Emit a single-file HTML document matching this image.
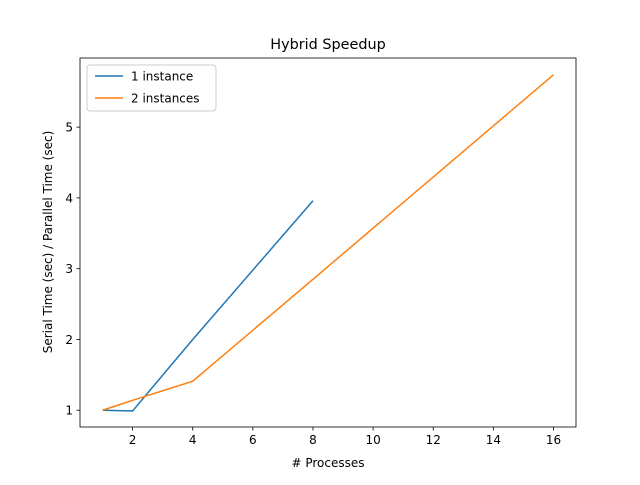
<!DOCTYPE html>
<html><head><meta charset="utf-8"><style>
body{margin:0;background:#fff}
svg{font-family:"DejaVu Sans","Liberation Sans",sans-serif}
</style></head><body>
<svg id="chart" width="640" height="480">
<rect x="0" y="0" width="640" height="480" fill="#fff"/>
<text x="328" y="49" font-size="14.4" text-anchor="middle">Hybrid Speedup</text>
<g id="xt"></g><g id="yt"></g><g id="lines"></g>
<rect x="80" y="58" width="496" height="369" fill="none" stroke="#000" stroke-width="0.8"/>
<text x="328" y="467" font-size="12" text-anchor="middle"># Processes</text>
<text transform="translate(52,242) rotate(-90)" font-size="12" text-anchor="middle">Serial Time (sec) / Parallel Time (sec)</text>
<g>
<rect x="87" y="65" width="129" height="46" rx="3" fill="#fff" stroke="#ccc" stroke-width="1"/>
<line x1="95" y1="76" x2="123" y2="76" stroke="#1f77b4" stroke-width="1.5"/>
<text x="131" y="80.5" font-size="12">1 instance</text>
<line x1="95" y1="98" x2="123" y2="98" stroke="#ff7f0e" stroke-width="1.5"/>
<text x="131" y="102.5" font-size="12">2 instances</text>
</g>
</svg>
<script>
const xTicks=[2,4,6,8,10,12,14,16];
const yTicks=[1,2,3,4,5];
const x1=[1,2,4,8];
const y1=[1,0.99,2.0,3.96];
const x2=[1,2,4,8,16];
const y2=[1,1.14,1.41,2.85,5.74];
const NS="http://www.w3.org/2000/svg";
const L=80,R=576,T=58,B=427;
const xmin=0.25,xmax=16.75,ymin=0.763,ymax=5.977;
const X=v=>L+(v-xmin)/(xmax-xmin)*(R-L);
const Y=v=>B-(v-ymin)/(ymax-ymin)*(B-T);
function mk(t,a,p){const e=document.createElementNS(NS,t);for(const k in a)e.setAttribute(k,a[k]);p.appendChild(e);return e;}
const xt=document.getElementById('xt'),yt=document.getElementById('yt'),lg=document.getElementById('lines');
xTicks.forEach(v=>{
 const l=mk('line',{x1:X(v),x2:X(v),y1:B,y2:B+3.5,stroke:'#000','stroke-width':0.8},xt);
 
 
 const t=mk('text',{x:X(v),y:B+17,'font-size':12,'text-anchor':'middle'},xt);t.textContent=v;
 
 
});
yTicks.forEach(v=>{
 const l=mk('line',{x1:L-3.5,x2:L,y1:Y(v),y2:Y(v),stroke:'#000','stroke-width':0.8},yt);
 
 
 const t=mk('text',{x:L-7,y:Y(v)+4.5,'font-size':12,'text-anchor':'end'},yt);t.textContent=v;
 
 
});
const p1=mk('polyline',{points:x1.map((v,i)=>X(v)+','+Y(y1[i])).join(' '),fill:'none',stroke:'#1f77b4','stroke-width':1.5},lg);


const p2=mk('polyline',{points:x2.map((v,i)=>X(v)+','+Y(y2[i])).join(' '),fill:'none',stroke:'#ff7f0e','stroke-width':1.5},lg);


</script>
</body></html>
